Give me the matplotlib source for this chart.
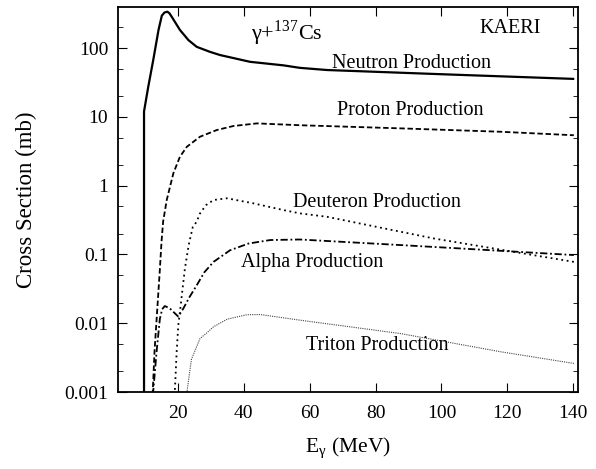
import numpy as np
import matplotlib
matplotlib.use("Agg")
import matplotlib.pyplot as plt
from matplotlib.ticker import LogLocator, FuncFormatter, FixedLocator

plt.rcParams['font.family'] = ['Liberation Serif', 'DejaVu Serif']
plt.rcParams['mathtext.fontset'] = 'stix'

# photon energy (MeV) and cross section (mb)
neutron_e = [9.7, 9.7, 11.0, 12.5, 14.1, 15.1, 15.9, 16.8, 17.4, 18.1, 20.6, 23.2, 25.7,
             29.7, 32.8, 41.9, 52.0, 57.0, 65.2, 100.0, 140.0]
neutron_xs = [0.0009, 12.0, 27.6, 67.0, 183.0, 295.0, 328.0, 337.0, 320.0, 285.0, 183.0,
              130.0, 104.0, 88.0, 79.0, 63.0, 56.0, 51.5, 47.9, 41.6, 35.6]

proton_e = [12.3, 12.9, 13.5, 14.5, 15.0, 15.5, 16.6, 18.6, 20.6, 22.7, 26.7, 31.8, 36.8,
            44.0, 57.0, 87.5, 117.9, 140.2]
proton_xs = [0.0009, 0.004, 0.011, 0.06, 0.15, 0.3, 0.62, 1.51, 2.63, 3.67, 5.14, 6.43,
             7.35, 8.03, 7.55, 6.8, 6.07, 5.4]

deuteron_e = [19.0, 19.6, 20.1, 20.6, 22.1, 23.3, 24.5, 25.7, 26.7, 28.5, 30.8, 34.9,
              42.9, 52.0, 57.1, 65.2, 97.6, 140.2]
deuteron_xs = [0.0009, 0.0038, 0.0093, 0.0146, 0.062, 0.14, 0.25, 0.3, 0.395, 0.52, 0.618,
               0.655, 0.553, 0.442, 0.395, 0.353, 0.171, 0.078]

alpha_e = [12.4, 13.5, 14.5, 15.2, 16.0, 17.5, 20.1, 21.6, 23.5, 25.7, 28.0, 30.8, 35.8,
           41.4, 48.0, 57.0, 87.5, 106.0, 140.2]
alpha_xs = [0.0009, 0.0038, 0.0115, 0.016, 0.0178, 0.0165, 0.0125, 0.0163, 0.024, 0.0356,
            0.055, 0.078, 0.115, 0.144, 0.162, 0.165, 0.137, 0.122, 0.098]

triton_e = [22.6, 24.1, 26.7, 28.7, 30.8, 35.0, 40.9, 45.0, 57.0, 87.5, 117.9, 140.2]
triton_xs = [0.0009, 0.003, 0.006, 0.0072, 0.0089, 0.0115, 0.0133, 0.0134, 0.0111, 0.0071,
             0.00386, 0.00261]

fig = plt.figure(figsize=(5.96, 4.69), dpi=100)
ax = fig.add_axes([0.198, 0.164, 0.772, 0.821])

ax.plot(neutron_e, neutron_xs, color='black', lw=1.6, ls='-')
ax.plot(proton_e, proton_xs, color='black', lw=1.3, ls=(0, (3, 1.5)))
ax.plot(deuteron_e, deuteron_xs, color='black', lw=1.3, ls=(0, (1, 2)))
ax.plot(alpha_e, alpha_xs, color='black', lw=1.3, ls=(0, (4, 1.5, 1, 1.5)))
ax.plot(triton_e, triton_xs, color='#444444', lw=0.8, ls=(0, (1, 1)))

ax.set_yscale('log')
ax.set_xlim(1.8, 141.5)
ax.set_ylim(0.001, 394)

ax.xaxis.set_major_locator(FixedLocator([20, 40, 60, 80, 100, 120, 140]))
ax.yaxis.set_major_locator(LogLocator(base=10))
ax.yaxis.set_minor_locator(LogLocator(base=10, subs=(2.0, 5.0)))
ax.yaxis.set_major_formatter(FuncFormatter(lambda v, p: '%g' % v))
ax.yaxis.set_minor_formatter(FuncFormatter(lambda v, p: ''))

ax.tick_params(which='both', direction='in', top=True, right=True, labelsize=14)
ax.tick_params(axis='x', which='major', length=6.5, pad=9)
ax.tick_params(axis='y', which='major', length=6.5, pad=7)
ax.tick_params(which='minor', length=3.5)
for s in ax.spines.values():
    s.set_linewidth(1.3)

ax.set_xlabel('E$_\\mathregular{\u03b3}$ (MeV)', fontsize=15.5, labelpad=10)
ax.set_ylabel('Cross Section (mb)', fontsize=16.5, labelpad=20)

fs = 14.5
ax.text(53.2, 165, '\u03b3+$^\\mathregular{137}$Cs', fontsize=16, ha='center', va='center')
ax.text(121, 195, 'KAERI', fontsize=fs, ha='center', va='center')
ax.text(90.8, 60.5, 'Neutron Production', fontsize=fs, ha='center', va='center')
ax.text(90.5, 12.5, 'Proton Production', fontsize=fs, ha='center', va='center')
ax.text(80.5, 0.578, 'Deuteron Production', fontsize=fs, ha='center', va='center')
ax.text(60.6, 0.0776, 'Alpha Production', fontsize=fs, ha='center', va='center')
ax.text(80.4, 0.0048, 'Triton Production', fontsize=fs, ha='center', va='center')

fig.savefig('out.png', dpi=100)
